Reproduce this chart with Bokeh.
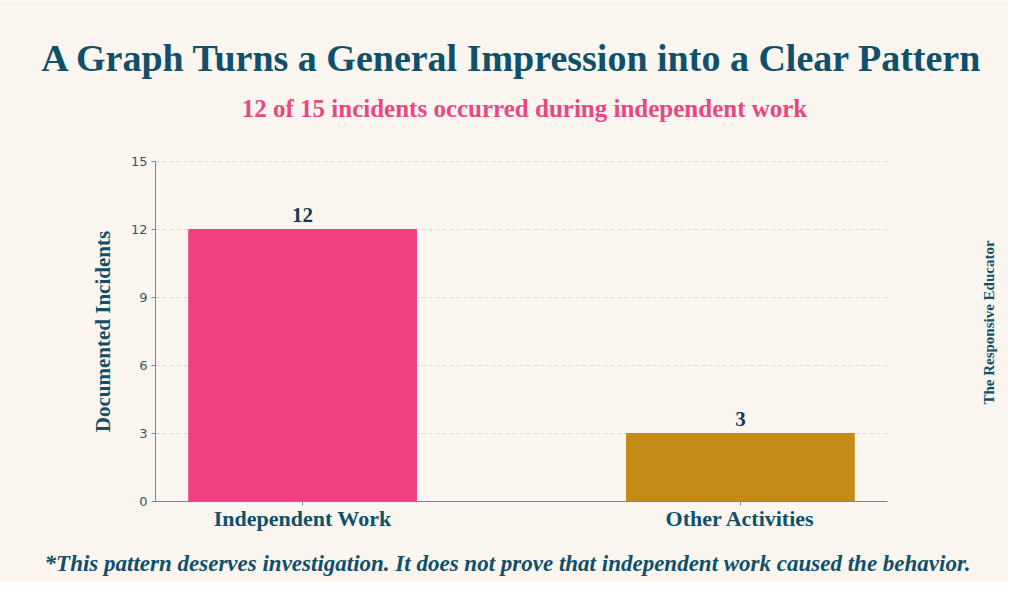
from bokeh.plotting import figure
from bokeh.models import Label, FixedTicker, ColumnDataSource, Range1d
from bokeh.core.properties import value
from bokeh.embed import file_html
from bokeh.resources import INLINE
import math

# ---- data ----
categories = ["Independent Work", "Other Activities"]
incidents = [12, 3]
bar_colors = ["#ef3f7e", "#c68a17"]
y_ticks = [0, 3, 6, 9, 12, 15]
y_max = 15

title_text = "A Graph Turns a General Impression into a Clear Pattern"
subtitle_text = "12 of 15 incidents occurred during independent work"
footnote_text = "*This pattern deserves investigation. It does not prove that independent work caused the behavior."
brand_text = "The Responsive Educator"
y_label = "Documented Incidents"

# ---- style / geometry ----
BG = "#faf6ef"
TEAL = "#10506a"
DARK = "#173a4e"
PINK = "#e8477f"
AXIS = "#6f8a98"
SERIF = "Liberation Serif"

W, H = 1008, 581
# plotting area in canvas pixels
FL, FR, FT, FB = 155, 887, 161, 501
X0, X1 = -0.336, 1.336          # category axis extent
sx = (FR - FL) / (X1 - X0)
sy = (FB - FT) / y_max

def px_x(px):
    return X0 + (px - FL) / sx

def px_y(py):
    return (FB - py) / sy

p = figure(width=W, height=H, output_backend="svg", toolbar_location=None,
           x_range=Range1d(px_x(0), px_x(W)), y_range=Range1d(px_y(H), px_y(0)),
           min_border=0, background_fill_color=BG, border_fill_color=BG)
p.outline_line_color = None

xs = list(range(len(categories)))
src = ColumnDataSource(dict(x=xs, y=incidents, color=bar_colors,
                            label=[str(v) for v in incidents]))

p.vbar(x="x", top="y", width=0.52, color="color", source=src)
p.text(x="x", y="y", text="label", source=src, y_offset=-8,
       text_align="center", text_baseline="bottom",
       text_font=value(SERIF), text_font_style="bold",
       text_font_size="21px", text_color=DARK)

# axes, pinned to the chart area
p.xaxis.fixed_location = 0
p.xaxis.bounds = (X0, X1)
p.xaxis.ticker = FixedTicker(ticks=xs)
p.xaxis.major_label_overrides = {i: c for i, c in zip(xs, categories)}
p.xaxis.major_label_text_font = SERIF
p.xaxis.major_label_text_font_style = "bold"
p.xaxis.major_label_text_font_size = "22px"
p.xaxis.major_label_text_color = TEAL
p.xaxis.major_label_standoff = 0
p.xaxis.minor_tick_line_color = None
p.xaxis.major_tick_out = 4
p.xaxis.major_tick_in = 0
p.xaxis.axis_line_color = AXIS
p.xaxis.major_tick_line_color = AXIS

p.yaxis.fixed_location = X0
p.yaxis.bounds = (0, y_max)
p.yaxis.ticker = FixedTicker(ticks=y_ticks)
p.yaxis.major_label_text_font = "DejaVu Sans"
p.yaxis.major_label_text_font_size = "13px"
p.yaxis.major_label_text_color = "#3b5362"
p.yaxis.minor_tick_line_color = None
p.yaxis.major_tick_out = 4
p.yaxis.major_tick_in = 0
p.yaxis.major_label_standoff = 4
p.yaxis.axis_line_color = AXIS
p.yaxis.major_tick_line_color = AXIS
p.yaxis.axis_label = y_label
p.yaxis.axis_label_text_font = SERIF
p.yaxis.axis_label_text_font_style = "bold"
p.yaxis.axis_label_text_font_size = "21px"
p.yaxis.axis_label_text_color = TEAL
p.yaxis.axis_label_standoff = 13

p.xgrid.grid_line_color = None
p.ygrid.ticker = FixedTicker(ticks=y_ticks[1:])
p.ygrid.bounds = (0, y_max)
p.ygrid.cross_bounds = (X0, X1)
p.ygrid.grid_line_color = "#dcd6cc"
p.ygrid.grid_line_dash = "4 3"
p.ygrid.grid_line_width = 1

# text annotations
p.add_layout(Label(x=px_x(512), y=px_y(57), text=title_text, text_align="center",
                   text_baseline="middle", text_font=SERIF, text_font_style="bold",
                   text_font_size="38px", text_color=TEAL))
p.add_layout(Label(x=px_x(524), y=px_y(108), text=subtitle_text, text_align="center",
                   text_baseline="middle", text_font=SERIF, text_font_style="bold",
                   text_font_size="25px", text_color=PINK))
p.add_layout(Label(x=px_x(507), y=px_y(563), text=footnote_text, text_align="center",
                   text_baseline="middle", text_font=SERIF, text_font_style="bold italic",
                   text_font_size="23px", text_color=TEAL))
p.add_layout(Label(x=px_x(988), y=px_y(322), text=brand_text, text_align="center",
                   text_baseline="middle", angle=math.pi / 2, text_font=SERIF,
                   text_font_style="bold", text_font_size="15px", text_color=TEAL))

open("out.html", "w").write(file_html(p, INLINE))
